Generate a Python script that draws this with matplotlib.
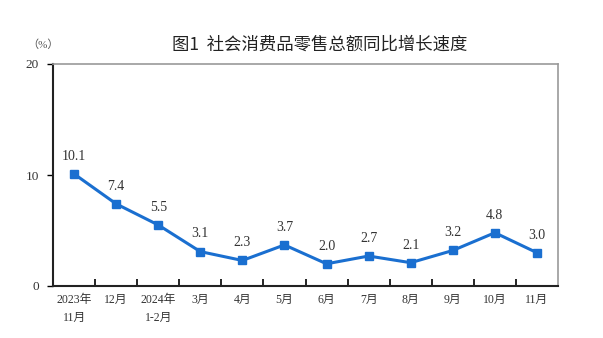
import matplotlib.pyplot as plt
import numpy as np

# monthly data, year-on-year growth (%)
months = ['2023年\n11月', '12月', '2024年\n1-2月', '3月', '4月', '5月',
          '6月', '7月', '8月', '9月', '10月', '11月']
growth = [10.1, 7.4, 5.5, 3.1, 2.3, 3.7, 2.0, 2.7, 2.1, 3.2, 4.8, 3.0]

plt.rcParams['font.family'] = ['Liberation Serif', 'Noto Sans CJK SC']

line_color = '#1a6fd0'
text_color = '#333333'

fig = plt.figure(figsize=(6.03, 3.38), dpi=100)
ax = fig.add_axes([53 / 603, 1 - 286 / 338, 505 / 603, 222 / 338])

x = np.arange(len(months))
ax.plot(x, growth, color=line_color, lw=2.2, marker='s', ms=5.5,
        markerfacecolor=line_color, markeredgecolor=line_color)

for xi, v in zip(x, growth):
    ax.annotate(f'{v:.1f}', (xi, v), xytext=(0, 8), textcoords='offset points',
                ha='center', va='bottom', fontsize=10, color=text_color)

ax.set_xlim(-0.5, len(months) - 0.5)
ax.set_ylim(0, 20)
ax.set_yticks([0, 10, 20])
ax.tick_params(axis='y', direction='out', length=4, width=1, labelsize=9.5,
               labelcolor=text_color, pad=6)

# category labels without ticks, boundary ticks pointing inward
ax.set_xticks(x)
ax.set_xticklabels(months, fontsize=8.5, color=text_color, linespacing=1.6, va='top')
ax.tick_params(axis='x', which='major', length=0, pad=6)
ax.set_xticks(np.arange(0.5, len(months) - 1, 1), minor=True)
ax.tick_params(axis='x', which='minor', direction='in', length=5, width=1.2)

for side in ['left', 'bottom']:
    ax.spines[side].set_color('#222222')
    ax.spines[side].set_linewidth(1.5)
for side in ['top', 'right']:
    ax.spines[side].set_color('#999999')
    ax.spines[side].set_linewidth(1.2)

fig.text(320 / 603, 1 - 45 / 338, '图1  社会消费品零售总额同比增长速度',
         ha='center', va='center', fontsize=12.5, fontweight='medium',
         family=['Noto Sans CJK SC', 'DejaVu Sans'], color='#222222')
fig.text(43 / 603, 1 - 45 / 338, '（%）', ha='center', va='center',
         fontsize=8, color='#555555')

plt.savefig('out.png', dpi=100)
